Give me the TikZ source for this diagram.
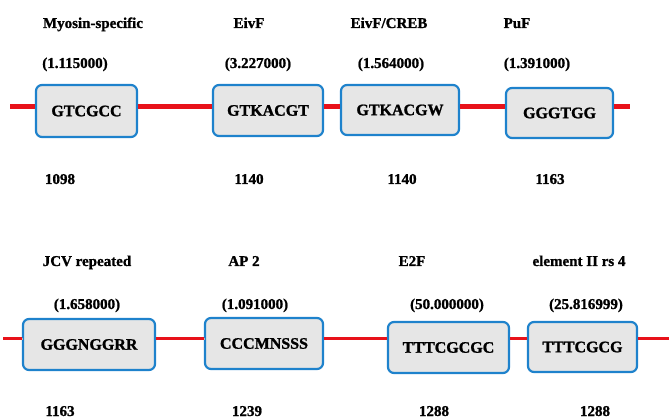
\documentclass[tikz,border=0pt]{standalone}
\usepackage{fontspec}
\setmainfont{Liberation Serif}[BoldFeatures={FakeBold=1.2}]
\begin{document}
\begin{tikzpicture}[x=1pt,y=-1pt,
  box/.style={draw=boxblue,fill=boxgray,line width=2.2pt,rounded corners=6pt,inner sep=0pt,
    font=\fontsize{16}{18}\selectfont\bfseries},
  lbl/.style={anchor=base,inner sep=0pt,font=\fontsize{15}{18}\selectfont\bfseries},
  redline/.style={draw=lred,line width=4.2pt},
  redlinethin/.style={draw=lred,line width=3pt},
  shadowline/.style={draw=gray!55,line width=1.6pt,dash pattern=on 1pt off 0.7pt,yshift=-3.6pt},
  shadowlinethin/.style={draw=gray!55,line width=1.4pt,dash pattern=on 1pt off 0.7pt,yshift=-2.8pt}]
\definecolor{boxblue}{HTML}{1E82CC}
\definecolor{boxgray}{HTML}{E6E6E6}
\definecolor{lred}{HTML}{E8121A}
\useasboundingbox (0,0) rectangle (669,419);
\coordinate (s1) at (10,106.5);
\coordinate (e1) at (630,106.5);
\coordinate (s2) at (3,339);
\coordinate (e2) at (669,339);
% boxes row 1
\node[box,minimum width=101pt,minimum height=52pt] (b1) at (86.5,111) {GTCGCC};
\node[box,minimum width=110pt,minimum height=51pt] (b2) at (268,110.5) {GTKACGT};
\node[box,minimum width=118pt,minimum height=50pt] (b3) at (400,110) {GTKACGW};
\node[box,minimum width=107pt,minimum height=50pt] (b4) at (559.5,113) {GGGTGG};
% boxes row 2
\node[box,minimum width=132pt,minimum height=51pt] (c1) at (89,344.5) {GGGNGGRR};
\node[box,minimum width=118pt,minimum height=51pt] (c2) at (264,343.5) {CCCMNSSS};
\node[box,minimum width=121pt,minimum height=51pt] (c3) at (448.5,347.5) {TTTCGCGC};
\node[box,minimum width=109pt,minimum height=50pt] (c4) at (582.5,347) {TTTCGCG};
% connectors row 1
\foreach \st in {shadowline,redline}{
  \draw[\st] (s1) -- (b1.west |- s1);
  \draw[\st] (b1.east |- s1) -- (b2.west |- s1);
  \draw[\st] (b2.east |- s1) -- (b3.west |- s1);
  \draw[\st] (b3.east |- s1) -- (b4.west |- s1);
  \draw[\st] (b4.east |- e1) -- (e1);
}
% connectors row 2
\foreach \st in {shadowlinethin,redlinethin}{
  \draw[\st] (s2) -- (c1.west |- s2);
  \draw[\st] (c1.east |- s2) -- (c2.west |- s2);
  \draw[\st] (c2.east |- s2) -- (c3.west |- s2);
  \draw[\st] (c3.east |- s2) -- (c4.west |- s2);
  \draw[\st] (c4.east |- e2) -- (e2);
}
% labels row 1
\node[lbl] (n1) at (93,28) {Myosin-specific};
\node[lbl] (n2) at (249,28) {EivF};
\node[lbl] (n3) at (389,28) {EivF/CREB};
\node[lbl] (n4) at (517,28) {PuF};
\node[lbl] (v1) at (75,68) {(1.115000)};
\node[lbl] (v2) at (258,68) {(3.227000)};
\node[lbl] (v3) at (391,68) {(1.564000)};
\node[lbl] (v4) at (537,68) {(1.391000)};
\node[lbl] (p1) at (60,184) {1098};
\node[lbl] (p2) at (249,184) {1140};
\node[lbl] (p3) at (402,184) {1140};
\node[lbl] (p4) at (550,184) {1163};
% labels row 2
\node[lbl] (m1) at (87,266) {JCV repeated};
\node[lbl] (m2) at (244,266) {AP 2};
\node[lbl] (m3) at (412,266) {E2F};
\node[lbl] (m4) at (579,266) {element II rs 4};
\node[lbl] (w1) at (87,309) {(1.658000)};
\node[lbl] (w2) at (255,309) {(1.091000)};
\node[lbl] (w3) at (447,309) {(50.000000)};
\node[lbl] (w4) at (586,309) {(25.816999)};
\node[lbl] (q1) at (60,416) {1163};
\node[lbl] (q2) at (247,416) {1239};
\node[lbl] (q3) at (434,416) {1288};
\node[lbl] (q4) at (595,416) {1288};
\end{tikzpicture}
\end{document}
